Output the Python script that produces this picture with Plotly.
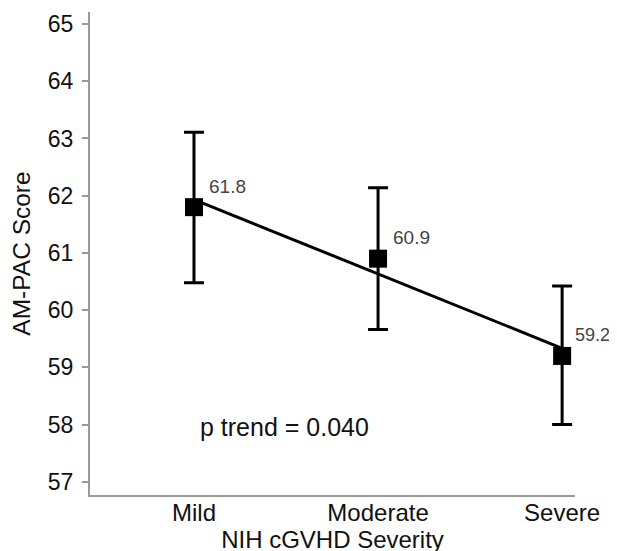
import numpy as np
import plotly.graph_objects as go

categories = ["Mild", "Moderate", "Severe"]
scores = [61.8, 60.9, 59.2]
err_upper = [1.31, 1.24, 1.22]
err_lower = [1.32, 1.24, 1.20]
score_labels = ["61.8", "60.9", "59.2"]
y_ticks = [57, 58, 59, 60, 61, 62, 63, 64, 65]
p_text = "p trend = 0.040"

xpos = np.arange(len(categories))
slope, intercept = np.polyfit(xpos, scores, 1)
trend = slope * xpos + intercept

FONT = "Liberation Sans, Arial, sans-serif"

fig = go.Figure()
fig.add_trace(go.Scatter(
    x=xpos, y=trend, mode="lines",
    line=dict(color="black", width=3), hoverinfo="skip", showlegend=False))
fig.add_trace(go.Scatter(
    x=xpos, y=scores, mode="markers",
    marker=dict(symbol="square", size=18, color="black"),
    error_y=dict(type="data", symmetric=False, array=err_upper, arrayminus=err_lower,
                 color="black", thickness=3, width=10),
    showlegend=False))

label_xshift = [13, 13, 11]
label_size = [19, 19, 18]
for xi, yi, lab, xs, fs in zip(xpos, scores, score_labels, label_xshift, label_size):
    fig.add_annotation(x=xi, y=yi, text=lab, showarrow=False,
                       xanchor="left", yanchor="middle", xshift=xs, yshift=21,
                       font=dict(family=FONT, size=fs, color="#444"))

fig.add_annotation(x=0.49, y=57.95, text=p_text, showarrow=False,
                   xanchor="center", yanchor="middle",
                   font=dict(family=FONT, size=25, color="#111"))

fig.update_layout(
    width=617, height=551,
    margin=dict(l=82, r=50, t=4, b=64),
    paper_bgcolor="white", plot_bgcolor="white",
    font=dict(family=FONT, color="#111"),
    xaxis=dict(range=[-0.565, 2.07], tickvals=list(xpos), ticktext=categories,
               showline=True, linecolor="#999", linewidth=2, ticks="",
               ticklabelstandoff=-5,
               showgrid=False, zeroline=False,
               tickfont=dict(size=24, color="#111"),
               title=dict(text="NIH cGVHD Severity", font=dict(size=24, color="#111"), standoff=0)),
    yaxis=dict(range=[56.77, 65.21], tickvals=y_ticks,
               showline=True, linecolor="#999", linewidth=2,
               ticks="outside", ticklen=6, tickwidth=2, tickcolor="#999",
               ticklabelstandoff=4,
               showgrid=False, zeroline=False,
               tickfont=dict(size=23, color="#111"),
               title=dict(text="AM-PAC Score", font=dict(size=24.5, color="#111"), standoff=12)),
)

fig.write_html("out.html")
